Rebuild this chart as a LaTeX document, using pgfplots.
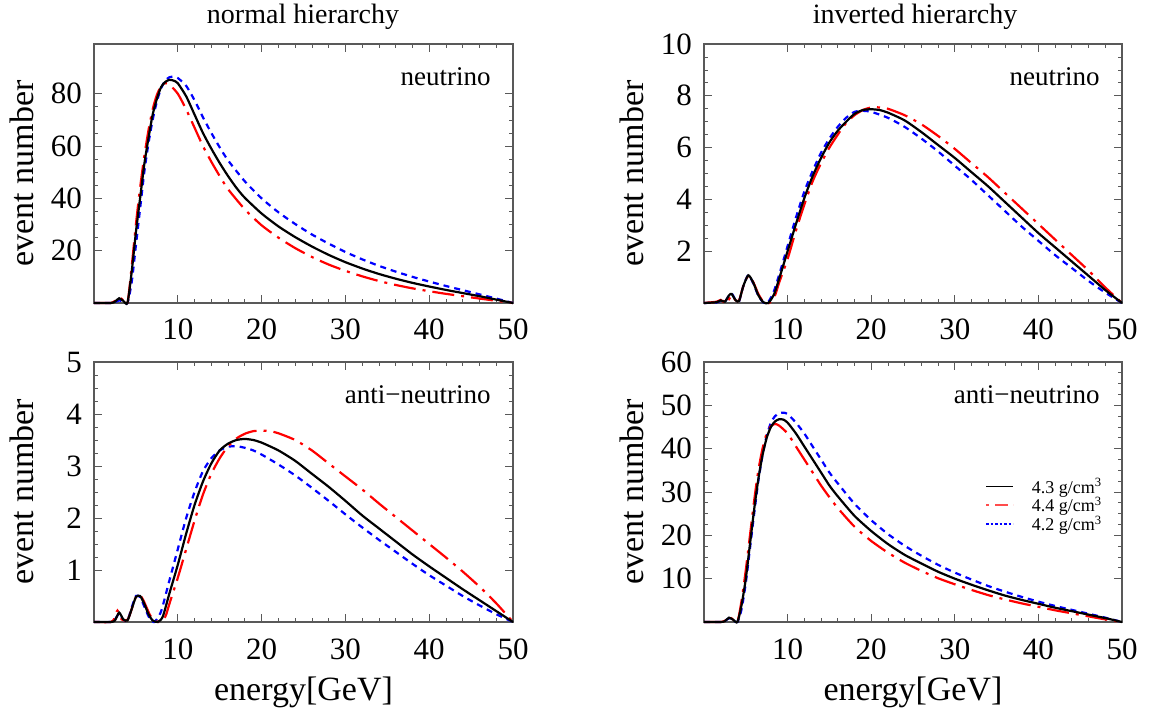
\documentclass[border=0pt]{standalone}
\usepackage{fontspec}
\setmainfont{Liberation Serif}
\usepackage{pgfplots}
\pgfplotsset{compat=1.18}
\definecolor{framegray}{gray}{0.35}
\pgfplotsset{
  panel/.style={
    scale only axis, width=419pt, height=259pt,
    xmin=0, xmax=50, xtick={10,20,30,40,50}, minor x tick num=4,
    tick align=inside, xtick pos=both, ytick pos=both,
    major tick length=8pt, minor tick length=4pt,
    axis line style={framegray, line width=1.2pt},
    every tick/.style={framegray, line width=0.9pt},
    every minor tick/.style={framegray, line width=0.7pt},
    /pgf/number format/assume math mode=true,
    tick label style={font=\fontsize{31}{31}\selectfont, inner sep=0pt},
    xticklabel style={anchor=base, yshift=-37pt},
    yticklabel style={anchor=east, xshift=-12pt},
    ylabel={event number},
    ylabel style={at={(axis description cs:-0.145,0.5)}, anchor=base, rotate=0, font=\fontsize{34}{34}\selectfont},
    clip=false,
  },
  cblack/.style={black, line width=2.2pt, smooth, tension=0.4},
  cred/.style={red, line width=2.2pt, dash pattern=on 22pt off 7pt on 3pt off 7pt, smooth, tension=0.4},
  cblue/.style={blue, line width=2.2pt, dash pattern=on 6pt off 5pt, smooth, tension=0.4},
}
\begin{document}
\begin{tikzpicture}
\useasboundingbox (0,0) rectangle (1149pt,710pt);
\node[anchor=base, font=\fontsize{28}{28}\selectfont] at (303pt,686pt) {normal hierarchy};
\node[anchor=base, font=\fontsize{28}{28}\selectfont] at (915pt,686pt) {inverted hierarchy};
% ---------------- top-left
\begin{axis}[panel, at={(94pt,407pt)}, anchor=south west, ymin=0, ymax=99, ytick={20,40,60,80}, minor y tick num=3]
\addplot[cblue] coordinates {(0,0)(2,0)(2.5,0.3)(3,1)(3.5,0.5)(4,0)(4.5,8)(5,22)(5.5,36)(6,50)(6.5,61)(7,70)(7.5,77)(8,82)(8.5,85)(9,86.3)(9.5,86.5)(10,86)(11,83)(12,77.5)(13,71)(14,65)(15,59.5)(16,54.5)(18,46.5)(20,40)(22,34.7)(24,30.2)(26,26.2)(28,22.7)(30,19.5)(32,16.7)(34,14.2)(36,12)(38,10)(40,8.2)(42,6.5)(44,4.9)(46,3.3)(48,1.7)(50,0)};
\addplot[cred] coordinates {(0,0)(2,0)(2.5,0.8)(3,2.2)(3.5,1)(4,0)(4.5,14)(5,30)(5.5,44)(6,56)(6.5,66)(7,74)(7.5,79.5)(8,82.8)(8.5,84)(9,83.5)(10,80)(11,74)(12,67)(13,60)(14,54)(15,48.5)(16,43.5)(18,35.8)(20,29.7)(22,25)(24,21)(26,17.6)(28,14.7)(30,12.3)(32,10.2)(34,8.4)(36,6.9)(38,5.6)(40,4.5)(42,3.5)(44,2.6)(46,1.7)(48,0.85)(50,0)};
\addplot[cblack] coordinates {(0,0)(2,0)(2.5,0.5)(3,1.8)(3.5,0.8)(4,0.1)(4.5,12)(5,27)(5.5,40)(6,53)(6.5,63)(7,72)(7.5,78)(8,82.5)(8.5,84.5)(9,85.3)(9.5,85)(10,84)(11,79)(12,72)(13,65)(14,59)(15,53.5)(16,48.5)(17,44)(18,40.2)(20,34.2)(22,29.3)(24,25.2)(26,21.6)(28,18.4)(30,15.6)(32,13.2)(34,11.1)(36,9.3)(38,7.7)(40,6.3)(42,5)(44,3.8)(46,2.6)(48,1.3)(50,0)};
\node[font=\fontsize{27}{27}\selectfont, anchor=base east] at (rel axis cs:0.955,0.84) {neutrino};
\end{axis}
% ---------------- top-right
\begin{axis}[panel, at={(704pt,407pt)}, anchor=south west, width=418pt, ymin=0, ymax=10, ytick={2,4,6,8,10}, minor y tick num=3]
\addplot[cblue] coordinates {(0,0)(1.5,0.02)(2,0.08)(2.5,0.05)(3,0.3)(3.3,0.38)(3.8,0.1)(4.2,0.08)(4.7,0.65)(5.3,1.08)(5.9,0.75)(6.5,0.28)(7.1,0.02)(7.6,0)(8.3,0.4)(9,1.1)(10,2.2)(11,3.3)(12,4.3)(13,5.1)(14,5.8)(15,6.35)(16,6.8)(17,7.15)(18,7.38)(19,7.42)(20,7.38)(22,7.15)(24,6.8)(26,6.35)(28,5.85)(30,5.3)(32,4.75)(34,4.15)(36,3.55)(38,2.95)(40,2.4)(42,1.85)(44,1.35)(46,0.85)(48,0.4)(50,0)};
\addplot[cred] coordinates {(0,0)(1.5,0.05)(2,0.12)(2.3,0.05)(2.7,0.25)(3,0.15)(3.3,0.3)(3.8,0.1)(4.2,0.1)(4.7,0.65)(5.3,1.05)(5.9,0.8)(6.5,0.35)(7.1,0.05)(7.8,0)(8.5,0.3)(9,0.8)(10,1.7)(11,2.8)(12,3.8)(13,4.7)(14,5.4)(15,6.0)(16,6.5)(17,6.95)(18,7.25)(19,7.45)(20,7.55)(21,7.55)(22,7.5)(24,7.25)(26,6.9)(28,6.45)(30,5.95)(32,5.4)(34,4.85)(36,4.25)(38,3.65)(40,3.05)(42,2.45)(44,1.85)(46,1.25)(48,0.6)(50,0)};
\addplot[cblack] coordinates {(0,0)(1.5,0.03)(2,0.1)(2.5,0.05)(3,0.3)(3.3,0.35)(3.8,0.1)(4.2,0.08)(4.7,0.65)(5.3,1.07)(5.9,0.78)(6.5,0.3)(7.1,0.03)(7.7,0)(8.4,0.35)(9,0.95)(10,2.0)(11,3.05)(12,4.05)(13,4.9)(14,5.6)(15,6.2)(16,6.65)(17,7.0)(18,7.3)(19,7.45)(20,7.48)(21,7.45)(22,7.35)(24,7.05)(26,6.6)(28,6.1)(30,5.6)(32,5.05)(34,4.5)(36,3.9)(38,3.3)(40,2.7)(42,2.15)(44,1.6)(46,1.05)(48,0.5)(50,0)};
\node[font=\fontsize{27}{27}\selectfont, anchor=base east] at (rel axis cs:0.955,0.84) {neutrino};
\end{axis}
% ---------------- bottom-left
\begin{axis}[panel, at={(94pt,88pt)}, anchor=south west, height=260pt, ymin=0, ymax=5, ytick={1,2,3,4,5}, minor y tick num=3, xlabel={energy[GeV]}, xlabel style={at={(axis description cs:0.5,0)}, anchor=base, yshift=-78pt, font=\fontsize{34}{34}\selectfont}]
\addplot[cblue] coordinates {(0,0)(2,0)(2.5,0.05)(3,0.16)(3.5,0.04)(4,0.03)(4.5,0.28)(5,0.5)(5.5,0.48)(6,0.3)(6.6,0.08)(7.2,0)(8,0.2)(9,0.8)(10,1.4)(11,2.0)(12,2.5)(13,2.9)(14,3.15)(15,3.3)(16,3.37)(17,3.38)(18,3.35)(19,3.3)(20,3.22)(22,3.03)(24,2.82)(26,2.58)(28,2.33)(30,2.07)(32,1.82)(34,1.58)(36,1.35)(38,1.12)(40,0.9)(42,0.7)(44,0.5)(46,0.32)(48,0.15)(50,0)};
\addplot[cred] coordinates {(0,0)(2,0)(2.4,0.06)(2.8,0.22)(3.3,0.05)(4,0.04)(4.5,0.25)(5,0.48)(5.5,0.52)(6,0.38)(6.8,0.1)(7.7,0)(8.5,0.1)(9,0.35)(10,0.85)(11,1.4)(12,1.95)(13,2.45)(14,2.85)(15,3.15)(16,3.38)(17,3.53)(18,3.62)(19,3.67)(20,3.68)(21,3.67)(22,3.63)(24,3.5)(26,3.3)(28,3.05)(30,2.8)(32,2.55)(34,2.28)(36,2.02)(38,1.76)(40,1.5)(42,1.24)(44,0.97)(46,0.68)(48,0.36)(50,0)};
\addplot[cblack] coordinates {(0,0)(2,0)(2.5,0.03)(3,0.18)(3.5,0.05)(4,0.03)(4.5,0.25)(5,0.48)(5.5,0.5)(6,0.35)(6.5,0.15)(7,0.03)(7.6,0)(8.2,0.1)(9,0.55)(10,1.1)(11,1.7)(12,2.25)(13,2.7)(14,3.05)(15,3.3)(16,3.43)(17,3.5)(18,3.52)(19,3.5)(20,3.45)(22,3.3)(24,3.1)(26,2.85)(28,2.6)(30,2.33)(32,2.05)(34,1.8)(36,1.55)(38,1.3)(40,1.07)(42,0.85)(44,0.63)(46,0.42)(48,0.21)(50,0)};
\node[font=\fontsize{27}{27}\selectfont, anchor=base east] at (rel axis cs:0.955,0.84) {anti−neutrino};
\end{axis}
% ---------------- bottom-right
\begin{axis}[panel, at={(704pt,88pt)}, anchor=south west, width=418pt, height=260pt, ymin=0, ymax=60, ytick={10,20,30,40,50,60}, minor y tick num=3, xlabel={energy[GeV]}, xlabel style={at={(axis description cs:0.5,0)}, anchor=base, yshift=-78pt, font=\fontsize{34}{34}\selectfont},
  legend style={at={(axis description cs:0.665,0.56)}, anchor=north west, draw=none, fill=none, font=\fontsize{18}{18}\selectfont, cells={anchor=west}, row sep=2.5pt, column sep=4pt, nodes={inner sep=0pt}},
  legend image code/.code={\draw[#1] (0pt,0pt) -- (27pt,0pt);},
  legend cell align=left]
\addlegendimage{black, line width=1.3pt}
\addlegendentry{\hspace{14pt}4.3 g/cm\textsuperscript{3}}
\addlegendimage{red!70!white, line width=1.8pt, dash pattern=on 3pt off 6pt on 13pt off 5pt}
\addlegendentry{\hspace{14pt}4.4 g/cm\textsuperscript{3}}
\addlegendimage{blue, line width=1.3pt, dash pattern=on 2.5pt off 2pt}
\addlegendentry{\hspace{14pt}4.2 g/cm\textsuperscript{3}}
\addplot[cblue, forget plot] coordinates {(0,0)(2,0)(2.5,0.2)(3,0.9)(3.5,0.4)(4,0)(4.5,3)(5,9)(5.5,17)(6,25)(6.5,32.5)(7,38.5)(7.5,43)(8,46)(8.5,47.5)(9,48.2)(9.5,48.3)(10,48)(11,46)(12,43.5)(13,40.5)(14,37.5)(15,34.5)(16,32)(18,27.3)(20,23.5)(22,20.3)(24,17.6)(26,15.3)(28,13.2)(30,11.4)(32,9.8)(34,8.3)(36,7)(38,5.8)(40,4.7)(42,3.7)(44,2.8)(46,1.9)(48,1)(50,0)};
\addplot[cred, forget plot] coordinates {(0,0)(2,0)(2.5,0.3)(3,1.2)(3.5,0.5)(4,0)(4.5,5)(5,12)(5.5,20)(6,28)(6.5,35)(7,40)(7.5,43.5)(8,45.2)(8.5,45.7)(9,45.3)(10,43.5)(11,40.5)(12,37.5)(13,34.5)(14,31.5)(15,28.8)(16,26.3)(18,22)(20,18.7)(22,16)(24,13.7)(26,11.8)(28,10.1)(30,8.7)(32,7.4)(34,6.2)(36,5.2)(38,4.3)(40,3.5)(42,2.7)(44,2)(46,1.3)(48,0.6)(50,0)};
\addplot[cblack, forget plot] coordinates {(0,0)(2,0)(2.5,0.2)(3,1.0)(3.5,0.5)(4,0)(4.5,4)(5,10)(5.5,18)(6,26)(6.5,33)(7,38.5)(7.5,42.5)(8,45)(8.5,46.3)(9,46.8)(9.5,46.7)(10,46)(11,43.5)(12,40.5)(13,37.5)(14,34.5)(15,31.5)(16,29)(18,24.5)(20,21)(22,18)(24,15.5)(26,13.5)(28,11.6)(30,10)(32,8.6)(34,7.3)(36,6.1)(38,5.1)(40,4.2)(42,3.3)(44,2.5)(46,1.7)(48,0.9)(50,0)};
\node[font=\fontsize{27}{27}\selectfont, anchor=base east] at (rel axis cs:0.955,0.84) {anti−neutrino};
\end{axis}
\end{tikzpicture}
\end{document}
